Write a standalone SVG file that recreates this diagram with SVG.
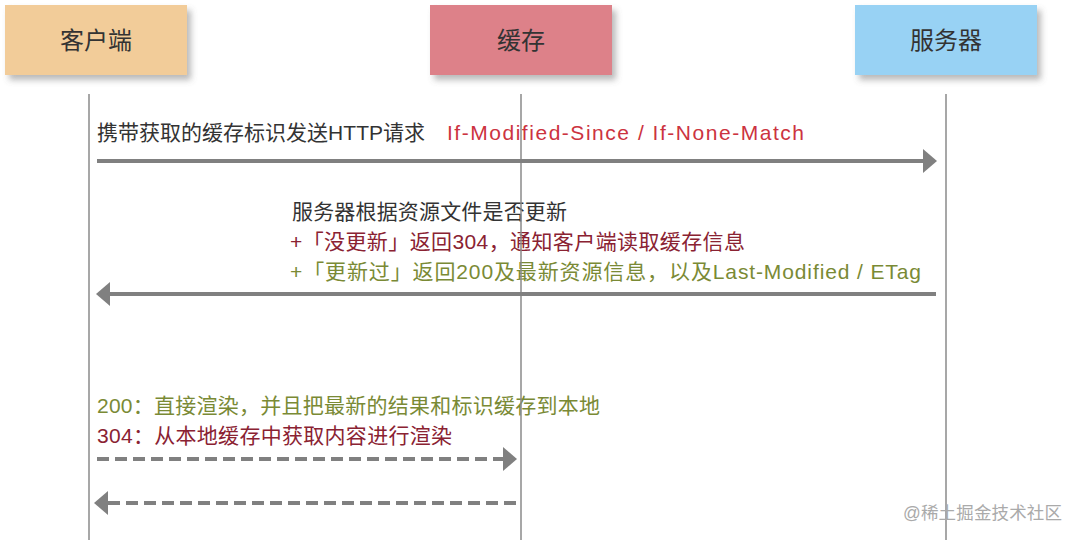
<svg xmlns="http://www.w3.org/2000/svg" width="1080" height="540" viewBox="0 0 1080 540">
  <style>
    text { font-family: "Liberation Sans", "Noto Sans CJK SC", sans-serif; }
    .box-label { font-size: 24px; fill: #333333; text-anchor: middle; }
    .msg { font-size: 21px; }
    .dark { fill: #333333; }
    .red { fill: #CC3340; }
    .maroon { fill: #8A2232; }
    .olive { fill: #7A8A35; }
    .lifeline { stroke: #8a8a8a; stroke-width: 1.5; fill: none; }
    .arrow { stroke: #808080; stroke-width: 4; fill: none; }
    .dashed { stroke-dasharray: 12 6; }
    .watermark { font-size: 17.5px; fill: #aaaaaa; }
  </style>
  <defs>
    <filter id="shadow" x="-10%" y="-20%" width="130%" height="150%">
      <feDropShadow dx="4" dy="5" stdDeviation="3" flood-color="#666666" flood-opacity="0.45"/>
    </filter>
    <marker id="head" markerUnits="userSpaceOnUse" markerWidth="14" markerHeight="24" refX="0" refY="12" orient="auto">
      <path d="M0,0 L14,12 L0,24 Z" fill="#808080"/>
    </marker>
  </defs>
  <rect width="1080" height="540" fill="#ffffff"/>

  <g id="client">
    <rect x="5" y="5" width="182" height="70" fill="#F2CC99" filter="url(#shadow)"/>
    <text class="box-label" x="96" y="49">客户端</text>
  </g>
  <g id="cache">
    <rect x="430" y="5" width="182" height="70" fill="#DD8189" filter="url(#shadow)"/>
    <text class="box-label" x="521" y="49">缓存</text>
  </g>
  <g id="server">
    <rect x="855" y="5" width="182" height="70" fill="#98D2F4" filter="url(#shadow)"/>
    <text class="box-label" x="946" y="49">服务器</text>
  </g>

  <g id="labels">
    <text class="msg dark" x="97" y="140" textLength="328" lengthAdjust="spacing">携带获取的缓存标识发送HTTP请求</text>
    <text class="msg red" x="447" y="140" textLength="357" lengthAdjust="spacing">If-Modified-Since / If-None-Match</text>
    <text class="msg dark" x="292" y="219" textLength="275" lengthAdjust="spacing">服务器根据资源文件是否更新</text>
    <text class="msg maroon" x="290" y="249" textLength="455" lengthAdjust="spacing">+「没更新」返回304，通知客户端读取缓存信息</text>
    <text class="msg olive" x="290" y="279" textLength="631" lengthAdjust="spacing">+「更新过」返回200及最新资源信息，以及Last-Modified / ETag</text>
    <text class="msg olive" x="97" y="413" textLength="503" lengthAdjust="spacing">200：直接渲染，并且把最新的结果和标识缓存到本地</text>
    <text class="msg maroon" x="97" y="443" textLength="355" lengthAdjust="spacing">304：从本地缓存中获取内容进行渲染</text>
  </g>

  <g id="lifelines">
    <line class="lifeline" x1="89" y1="94" x2="89" y2="540"/>
    <line class="lifeline" x1="521" y1="94" x2="521" y2="540"/>
    <line class="lifeline" x1="946" y1="94" x2="946" y2="540"/>
  </g>

  <g id="connectors">
    <line class="arrow" x1="97" y1="161" x2="923" y2="161" marker-end="url(#head)"/>
    <line class="arrow" x1="936" y1="294" x2="110" y2="294" marker-end="url(#head)"/>
    <line class="arrow dashed" x1="97" y1="459" x2="503" y2="459" marker-end="url(#head)"/>
    <line class="arrow dashed" x1="516" y1="503" x2="108" y2="503" marker-end="url(#head)"/>
  </g>

  <text class="watermark" x="903" y="519" textLength="159" lengthAdjust="spacing">@稀土掘金技术社区</text>
</svg>
